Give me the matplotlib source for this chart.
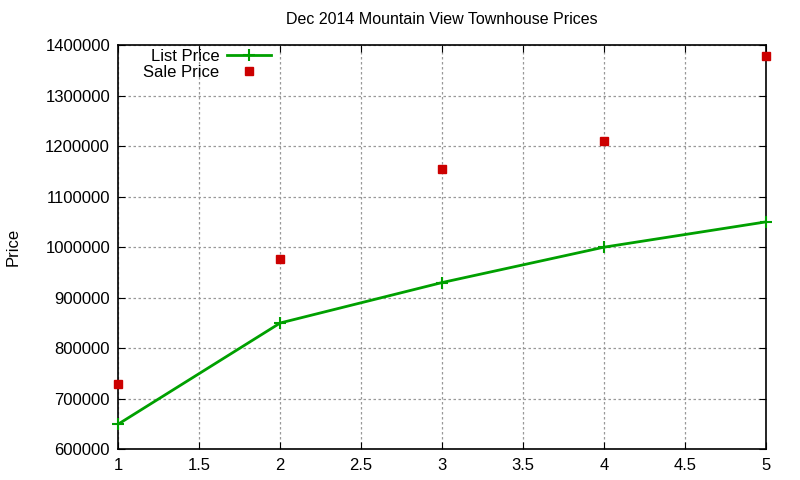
import numpy as np
import matplotlib.pyplot as plt

plt.rcParams['font.family'] = ['Liberation Sans', 'DejaVu Sans']

x = [1, 2, 3, 4, 5]
list_price = [650000, 850000, 930000, 1000000, 1050000]
sale_price = [729000, 977000, 1155000, 1210000, 1379000]
yticks = [600000, 700000, 800000, 900000, 1000000, 1100000, 1200000, 1300000, 1400000]

fig = plt.figure(figsize=(8, 4.8), dpi=100)
ax = fig.add_axes([0.148, 0.064, 0.809, 0.842])

ax.plot(x, list_price, color='#00a000', lw=2, marker='+', ms=9, mew=1.5,
        label='List Price', clip_on=False, zorder=3)
ax.plot(x, sale_price, ls='none', color='#cc0000', marker='s', ms=5.8,
        label='Sale Price', clip_on=False, zorder=3)

ax.set_xlim(1, 5)
ax.set_ylim(600000, 1400000)
ax.set_xticks(np.arange(1, 5.01, 0.5))
ax.set_xticklabels(['1', '1.5', '2', '2.5', '3', '3.5', '4', '4.5', '5'])
ax.set_yticks(yticks)
ax.set_yticklabels([str(v) for v in yticks])
ax.tick_params(direction='in', top=True, right=True, labelsize=12, length=5, pad=6)
ax.grid(True, ls=(0, (2, 2)), color='#999999', lw=0.9)
for s in ax.spines.values():
    s.set_linewidth(1.2)

ax.set_title('Dec 2014 Mountain View Townhouse Prices', fontsize=11.5, pad=15)
ax.set_ylabel('Price', fontsize=12, labelpad=18)

ax.legend(loc='upper left', bbox_to_anchor=(0.02, 1.02), frameon=False,
          markerfirst=False, fontsize=12, handlelength=2.6, labelspacing=0.05,
          borderaxespad=0.3, handletextpad=0.5)

fig.savefig('out.png')
